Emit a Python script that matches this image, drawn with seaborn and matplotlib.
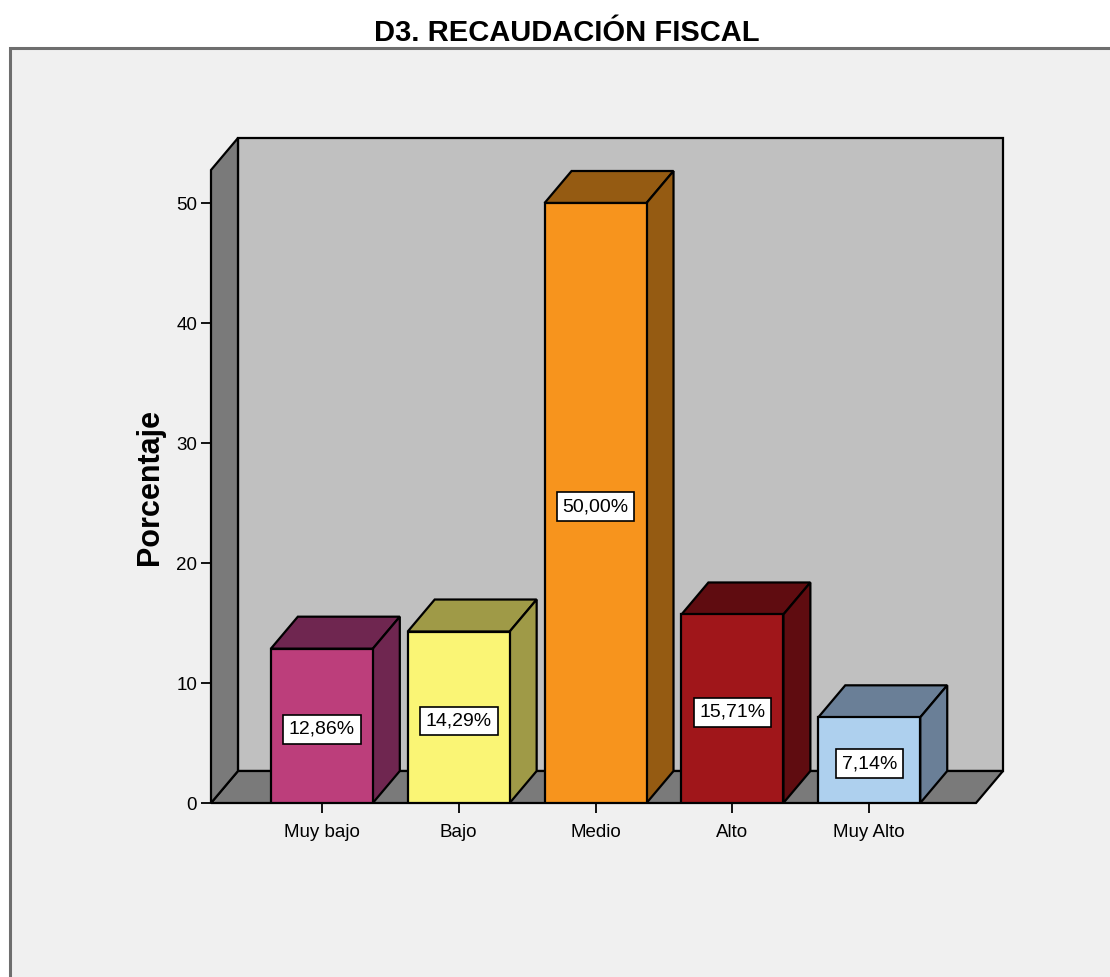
import matplotlib
matplotlib.use("Agg")
import matplotlib.pyplot as plt
from matplotlib.patches import Polygon, Rectangle
import seaborn as sns
import pandas as pd

categories = ["Muy bajo", "Bajo", "Medio", "Alto", "Muy Alto"]
values = [12.86, 14.29, 50.00, 15.71, 7.14]
labels = ["12,86%", "14,29%", "50,00%", "15,71%", "7,14%"]
yticks = [0, 10, 20, 30, 40, 50]
front_colors = ["#BC3E7B", "#FAF575", "#F7941D", "#A0161A", "#AED0EE"]
dark_colors = ["#6F2650", "#9F9A47", "#955B12", "#5F0C10", "#6A7F97"]

sns.set_theme(style="white")
plt.rcParams["font.family"] = ["Liberation Sans", "DejaVu Sans"]
plt.rcParams["text.color"] = "black"
plt.rcParams["axes.labelcolor"] = "black"
plt.rcParams["xtick.color"] = "black"
plt.rcParams["ytick.color"] = "black"

W, H = 1110, 977
fig = plt.figure(figsize=(W / 100, H / 100), dpi=100)
fig.patch.set_facecolor("white")

# outer frame
frame = Rectangle((10 / W, -0.01), 1.2, (977 - 48) / H + 0.01, transform=fig.transFigure,
                  facecolor="#F0F0F0", edgecolor="#6E6E6E", linewidth=2.2, zorder=-5)
fig.patches.append(frame)

ddx = 27 / 137
ddy = 32 / 12
x_left, x_right = -0.81, 4.78
wall_top = 52.75

ax = fig.add_axes([211 / W, (977 - 803) / H, 792 / W, 665 / H])
ax.set_facecolor("none")
ax.patch.set_alpha(0)

lw = 1.6
df = pd.DataFrame({"cat": categories, "val": values})
sns.barplot(data=df, x="cat", y="val", hue="cat", palette=front_colors, width=0.745,
            saturation=1, legend=False, edgecolor="black", linewidth=lw, ax=ax, zorder=5)

# back wall, floor, left wall
ax.add_patch(Polygon([(x_left + ddx, ddy), (x_right + ddx, ddy), (x_right + ddx, wall_top + ddy),
                      (x_left + ddx, wall_top + ddy)], closed=True, facecolor="#C0C0C0",
                     edgecolor="black", linewidth=lw, zorder=1, clip_on=False))
ax.add_patch(Polygon([(x_left, 0), (x_right, 0), (x_right + ddx, ddy), (x_left + ddx, ddy)],
                     closed=True, facecolor="#7A7A7A", edgecolor="black", linewidth=lw,
                     zorder=2, clip_on=False))
ax.add_patch(Polygon([(x_left, 0), (x_left + ddx, ddy), (x_left + ddx, wall_top + ddy),
                      (x_left, wall_top)], closed=True, facecolor="#7A7A7A",
                     edgecolor="black", linewidth=lw, zorder=2, clip_on=False))

bars = [pp for pp in ax.patches if isinstance(pp, Rectangle) and pp.get_height() > 0]
for i, p in enumerate(bars):
    x0, w, h = p.get_x(), p.get_width(), p.get_height()
    dc = dark_colors[i]
    ax.add_patch(Polygon([(x0, h), (x0 + w, h), (x0 + w + ddx, h + ddy), (x0 + ddx, h + ddy)],
                         closed=True, facecolor=dc, edgecolor="black", linewidth=lw, zorder=4,
                         clip_on=False))
    ax.add_patch(Polygon([(x0 + w, 0), (x0 + w + ddx, ddy), (x0 + w + ddx, h + ddy), (x0 + w, h)],
                         closed=True, facecolor=dc, edgecolor="black", linewidth=lw, zorder=4,
                         clip_on=False))
    ax.text(x0 + w / 2, h / 2 - 0.3, labels[i], ha="center", va="center", fontsize=14, zorder=6,
            bbox=dict(boxstyle="square,pad=0.3", facecolor="white", edgecolor="black",
                      linewidth=1.2))

ax.set_xlim(x_left, x_right + ddx)
ax.set_ylim(0, wall_top + ddy)
ax.set_yticks(yticks)
ax.set_yticklabels([str(t) for t in yticks])
for s in ax.spines.values():
    s.set_visible(False)
ax.tick_params(axis="both", which="both", direction="out", length=7, width=1.3,
               color="black", labelsize=13.5, left=True, bottom=True, pad=3)
ax.tick_params(axis="x", pad=8)
ax.set_xlabel("")
ax.set_ylabel("Porcentaje", fontsize=22, fontweight="bold")
ax.yaxis.set_label_coords(-0.077, 0.475)
ax.yaxis.label.set_verticalalignment("center")

fig.text(567 / W, 1 - 33 / H, "D3. RECAUDACIÓN FISCAL", ha="center", va="center",
         fontsize=21, fontweight="bold", color="black",
         family=["Liberation Sans Narrow", "Liberation Sans", "DejaVu Sans"])

fig.savefig("out.png", dpi=100, facecolor=fig.get_facecolor())
